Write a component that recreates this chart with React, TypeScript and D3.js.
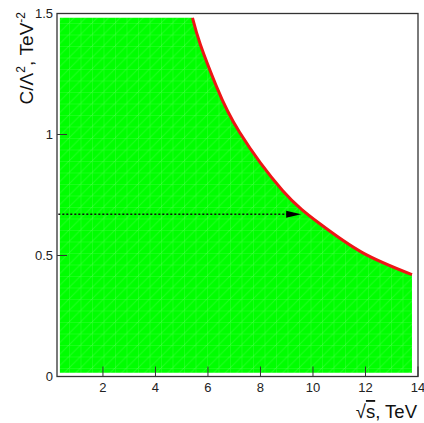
import React from "react";
import * as d3 from "d3";

// limit curve (sqrt(s) in TeV, C/Lambda^2 in TeV^-2)
const curveX = [5.41, 5.71, 6.33, 7.21, 8.84, 10.25, 11.88, 13.77];
const curveY = [1.482, 1.372, 1.197, 1.008, 0.769, 0.632, 0.512, 0.421];

// allowed region box (left, bottom edges)
const regionX = [0.36];
const regionY = [0.016];

// dotted arrow
const arrowX = [0.3, 9.55];
const arrowY = [0.67];

const xTicks = [2, 4, 6, 8, 10, 12, 14];
const yTicks = [0, 0.5, 1, 1.5];
const yTickLabels = ["0", "0.5", "1", "1.5"];

const size = { width: 424, height: 423, left: 57, right: 418, top: 13.5, bottom: 376.5 };

const App = () => {
  const x = d3.scaleLinear().domain([0.25, 14]).range([size.left, size.right]);
  const y = d3.scaleLinear().domain([0, 1.5]).range([size.bottom, size.top]);

  const pts: [number, number][] = curveX.map((d, i) => [x(d), y(curveY[i])]);
  const curvePath = d3.line().curve(d3.curveNatural)(pts) || "";
  const x0 = x(regionX[0]);
  const y0 = y(regionY[0]);
  const last = pts[pts.length - 1];
  const fillPath =
    `M${x0},${y0}L${x0},${pts[0][1]}` +
    curvePath.replace(/^M/, "L") +
    `L${last[0]},${y0}Z`;

  const ay = y(arrowY[0]);
  const ax1 = x(arrowX[1]);

  return (
    <svg
      width={size.width}
      height={size.height}
      style={{ position: "absolute", left: 0, top: 0, fontFamily: "Liberation Sans, Arial, sans-serif" }}
    >
      <defs>
        <pattern id="hatch" width="11.5" height="11.5" patternUnits="userSpaceOnUse">
          <rect width="11.5" height="11.5" fill="#00ff00" />
          <path d="M0,0V11.5M0,0H11.5" stroke="rgba(255,255,255,0.2)" strokeWidth="1" />
          <path d="M0,11.5L11.5,0" stroke="rgba(255,255,255,0.13)" strokeWidth="1" />
        </pattern>
      </defs>
      <rect width={size.width} height={size.height} fill="white" />

      <path d={fillPath} fill="url(#hatch)" />
      <path d={curvePath} fill="none" stroke="#ee1515" strokeWidth={3} />

      {/* dotted arrow */}
      <line
        x1={x(arrowX[0])}
        x2={ax1 - 14}
        y1={ay}
        y2={ay}
        stroke="#111"
        strokeWidth={1.5}
        strokeDasharray="2,2"
      />
      <path d={`M${ax1 - 15},${ay - 3.5}L${ax1},${ay}L${ax1 - 15},${ay + 3.5}Z`} fill="black" />

      {/* frame */}
      <rect
        x={size.left}
        y={size.top}
        width={size.right - size.left}
        height={size.bottom - size.top}
        fill="none"
        stroke="#333"
        strokeWidth={1.3}
      />

      {xTicks.map((t) => (
        <g key={t}>
          <line x1={x(t)} x2={x(t)} y1={size.bottom} y2={size.bottom - 10} stroke="#333" />
          <text x={x(t)} y={392} textAnchor="middle" fontSize={13} fill="#222">
            {t}
          </text>
        </g>
      ))}
      {yTicks.map((t, i) => (
        <g key={t}>
          <line x1={size.left} x2={size.left + 10} y1={y(t)} y2={y(t)} stroke="#333" />
          <text x={53} y={y(t) + 4.5} textAnchor="end" fontSize={13} fill="#222">
            {yTickLabels[i]}
          </text>
        </g>
      ))}

      {/* axis titles */}
      <text x={417} y={418} textAnchor="end" fontSize={18.5} fill="#111">
        √<tspan textDecoration="overline">s</tspan>, TeV
      </text>
      <text transform="translate(33,12) rotate(-90)" textAnchor="end" fontSize={19} fill="#111">
        C/Λ<tspan dy={-8} fontSize={12}>2</tspan>
        <tspan dy={8}>, TeV</tspan>
        <tspan dy={-8} fontSize={12}>-2</tspan>
      </text>
    </svg>
  );
};

export default App;
